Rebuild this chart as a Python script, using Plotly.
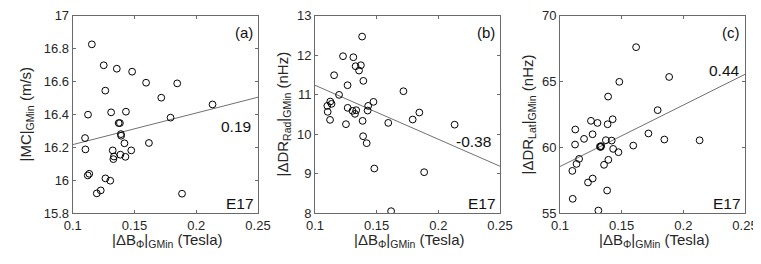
import plotly.graph_objects as go

# shared x: |ΔB_Φ|_GMin (Tesla)
dB = [0.1100, 0.1103, 0.1122, 0.1124, 0.1134, 0.1155, 0.1195, 0.1227, 0.1251, 0.1264,
      0.1265, 0.1304, 0.1311, 0.1324, 0.1329, 0.1334, 0.1357, 0.1372, 0.1382, 0.1386,
      0.1390, 0.1392, 0.1419, 0.1427, 0.1431, 0.1474, 0.1481, 0.1594, 0.1617, 0.1717,
      0.1792, 0.1846, 0.1885, 0.2132]
MC = [16.257, 16.188, 16.030, 16.399, 16.040, 16.826, 15.921, 15.939, 16.699, 16.545,
      16.012, 15.998, 16.413, 16.182, 16.129, 16.145, 16.678, 16.348, 16.348, 16.156,
      16.281, 16.271, 16.225, 16.143, 16.417, 16.182, 16.660, 16.593, 16.227, 16.502,
      16.381, 16.589, 15.919, 16.461]
DRrad = [10.718, 10.567, 10.364, 10.828, 10.769, 11.494, 10.997, 11.975, 10.255, 11.241,
         10.668, 10.592, 11.949, 10.516, 11.722, 10.609, 11.612, 11.747, 12.472, 10.339,
         9.951, 11.351, 9.774, 10.600, 10.718, 10.820, 9.133, 10.288, 8.054, 11.089,
         10.373, 10.550, 9.040, 10.243]
DRlat = [58.22, 56.10, 60.22, 61.36, 58.75, 59.13, 60.65, 57.34, 62.02, 61.00,
         57.64, 61.86, 55.21, 60.07, 60.03, 60.10, 58.68, 60.55, 56.73, 61.76,
         63.86, 59.06, 60.52, 62.14, 59.89, 59.64, 64.98, 60.14, 67.61, 61.06,
         62.83, 60.60, 65.35, 60.54]

# fitted lines (values at x range ends)
fit_x = [0.1, 0.25]
fit_MC = [16.217, 16.505]
fit_DRrad = [11.24, 9.19]
fit_DRlat = [58.55, 65.55]

corr = ["0.19", "-0.38", "0.44"]
panel_tags = ["(a)", "(b)", "(c)"]
event = "E17"

xticks = [0.1, 0.15, 0.2, 0.25]
xticklabels = ["0.1", "0.15", "0.2", "0.25"]
yranges = [[15.8, 17.0], [8, 13], [55, 70]]
ydticks = [0.2, 1, 5]
ylabels = ["|MC|<sub>GMin</sub> (m/s)",
           "|ΔDR<sub>Rad</sub>|<sub>GMin</sub> (nHz)",
           "|ΔDR<sub>Lat</sub>|<sub>GMin</sub> (nHz)"]
xlabel = "|ΔB<sub>Φ</sub>|<sub>GMin</sub> (Tesla)"

# the page body has an 8px margin, so the figure is drawn 8px in from the corner
OFF = 8
W, H = 761 - OFF, 264 - OFF
ax_left = [72.7, 315, 560]
ax_right = [258, 500, 745]
ax_top, ax_bot = 15.7, 213.3
ytitle_x = [26, 283, 528]
corr_pos = [(0.2462, 16.33), (0.2441, 9.81), (0.2474, 65.83)]


def px(xp):
    return (xp - OFF) / W


def py(yp):
    return 1 - (yp - OFF) / H


FONT = "Liberation Sans, Arial, Helvetica, sans-serif"
TXT = "#262626"
fig = go.Figure()
ys = [MC, DRrad, DRlat]
fits = [fit_MC, fit_DRrad, fit_DRlat]

layout = dict(width=W, height=H, margin=dict(l=0, r=0, t=0, b=0, autoexpand=False),
              paper_bgcolor="white", plot_bgcolor="white", showlegend=False,
              font=dict(family=FONT, size=13, color=TXT))
annotations = []
for i in range(3):
    sx = "" if i == 0 else str(i + 1)
    xa, ya = "x" + sx, "y" + sx
    fig.add_trace(go.Scatter(x=fit_x, y=fits[i], mode="lines",
                             line=dict(color="#707070", width=1),
                             xaxis=xa, yaxis=ya, hoverinfo="skip"))
    fig.add_trace(go.Scatter(x=dB, y=ys[i], mode="markers",
                             marker=dict(symbol="circle-open", size=6.8,
                                         color="black", line=dict(width=1)),
                             xaxis=xa, yaxis=ya))
    axstyle = dict(showline=True, linecolor="#6a6a6a", linewidth=1, mirror="ticks",
                   ticks="inside", ticklen=3, tickcolor="#6a6a6a", showgrid=False,
                   zeroline=False, automargin=False,
                   tickfont=dict(size=13, color=TXT))
    layout["xaxis" + sx] = dict(domain=[px(ax_left[i]), px(ax_right[i])],
                                range=[0.1, 0.25], tickvals=xticks,
                                ticktext=xticklabels, anchor=ya, **axstyle)
    layout["yaxis" + sx] = dict(domain=[py(ax_bot), py(ax_top)], range=yranges[i],
                                dtick=ydticks[i], anchor=xa, **axstyle)
    # axis titles
    annotations.append(dict(xref="paper", yref="paper",
                            x=px((ax_left[i] + ax_right[i]) / 2 + 2), y=py(240),
                            text=xlabel, showarrow=False, xanchor="center",
                            yanchor="middle", font=dict(size=15, color=TXT)))
    annotations.append(dict(xref="paper", yref="paper", x=px(ytitle_x[i]),
                            y=py((ax_top + ax_bot) / 2), textangle=-90,
                            text=ylabels[i], showarrow=False, xanchor="center",
                            yanchor="middle", font=dict(size=15, color=TXT)))
    # panel tag, event, correlation
    annotations.append(dict(xref="paper", yref="paper", x=px(ax_right[i] - 3), y=py(32),
                            text=panel_tags[i], showarrow=False, xanchor="right",
                            yanchor="middle", font=dict(size=15, color="#111")))
    annotations.append(dict(xref="paper", yref="paper", x=px(ax_right[i] - 2), y=py(203),
                            text=event, showarrow=False, xanchor="right",
                            yanchor="middle", font=dict(size=15.5, color="#111")))
    annotations.append(dict(xref=xa, yref=ya, x=corr_pos[i][0], y=corr_pos[i][1],
                            text=corr[i], showarrow=False, xanchor="right",
                            yanchor="middle", font=dict(size=15.5, color="#111")))
layout["annotations"] = annotations
fig.update_layout(**layout)
fig.write_html("out.html")
